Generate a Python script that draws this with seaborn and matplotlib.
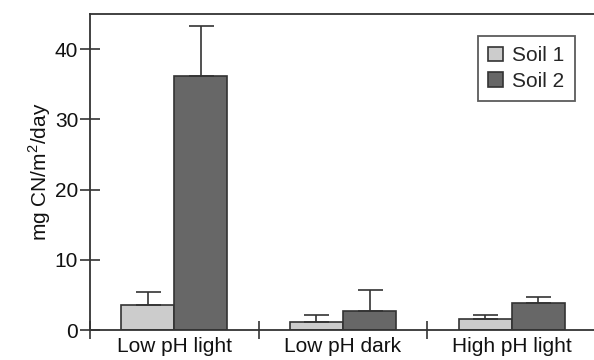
import pandas as pd
import matplotlib
matplotlib.use('Agg')
import matplotlib.pyplot as plt
import seaborn as sns

treatments = ['Low pH light', 'Low pH dark', 'High pH light']
soils = ['Soil 1', 'Soil 2']
soil1_mean = [3.6, 1.1, 1.6]
soil1_err = [1.85, 1.1, 0.6]
soil2_mean = [36.2, 2.7, 3.9]
soil2_err = [7.1, 3.0, 0.75]
y_ticks = [0, 10, 20, 30, 40]

df = pd.DataFrame({
    'treatment': treatments * 2,
    'soil': [soils[0]] * 3 + [soils[1]] * 3,
    'value': soil1_mean + soil2_mean,
    'err': soil1_err + soil2_err,
})

sns.set_style('white')
plt.rcParams['font.family'] = ['Liberation Sans', 'DejaVu Sans']
plt.rcParams['mathtext.fontset'] = 'custom'
plt.rcParams['mathtext.rm'] = 'Liberation Sans'

edge = '#333333'
fig = plt.figure(figsize=(5.94, 3.6), dpi=100)
ax = fig.add_axes([90 / 594, 30 / 360, 506 / 594, 316 / 360])

sns.barplot(data=df, x='treatment', y='value', hue='soil', order=treatments,
            hue_order=soils, palette=['#cccccc', '#676767'], width=0.63,
            edgecolor=edge, linewidth=1.2, errorbar=None, ax=ax)

# upper error bars only, placed on the bars seaborn drew
for cont, s in zip(ax.containers, soils):
    sub = df[df['soil'] == s].set_index('treatment').loc[treatments]
    xs = [p.get_x() + p.get_width() / 2 for p in cont.patches]
    ax.errorbar(xs, sub['value'], yerr=[[0] * 3, sub['err']], fmt='none',
                ecolor=edge, elinewidth=1.2, capsize=9, capthick=1.2, zorder=1)

ax.set_xlim(-0.5, 2.5)
ax.set_ylim(0, 45)
ax.set_yticks(y_ticks)
ax.set_xticks([-0.5, 0.5, 1.5])
ax.set_xticklabels([])
ax.set_xticks([0, 1, 2], minor=True)
ax.set_xticklabels(treatments, minor=True)
ax.tick_params(left=True, bottom=True)
ax.tick_params(axis='x', which='minor', bottom=True, length=0, pad=5, labelsize=15,
               colors='#111111')
ax.tick_params(axis='x', which='major', direction='inout', length=13, width=1.2, color=edge)
ax.tick_params(axis='y', direction='inout', length=14, width=1.2, color=edge,
               labelsize=15, pad=1.5, labelcolor='#111111')
ax.set_xlabel('')
ax.set_ylabel('mg CN/m$^2$/day', fontsize=15, color='#111111', labelpad=1)

for side in ['left', 'bottom', 'top']:
    ax.spines[side].set_visible(True)
    ax.spines[side].set_color(edge)
    ax.spines[side].set_linewidth(1.3)
ax.spines['right'].set_visible(False)

handles, labels = ax.get_legend_handles_labels()
leg = ax.legend(handles, labels, loc='upper right', bbox_to_anchor=(575 / 594, 1 - 36 / 360),
                bbox_transform=fig.transFigure, fontsize=15, frameon=True, fancybox=False,
                handlelength=0.7, handleheight=0.7, handletextpad=0.45,
                borderpad=0.5, labelspacing=0.3, borderaxespad=0)
leg.get_frame().set_edgecolor(edge)
leg.get_frame().set_linewidth(1.3)

fig.savefig('out.png', dpi=100)
